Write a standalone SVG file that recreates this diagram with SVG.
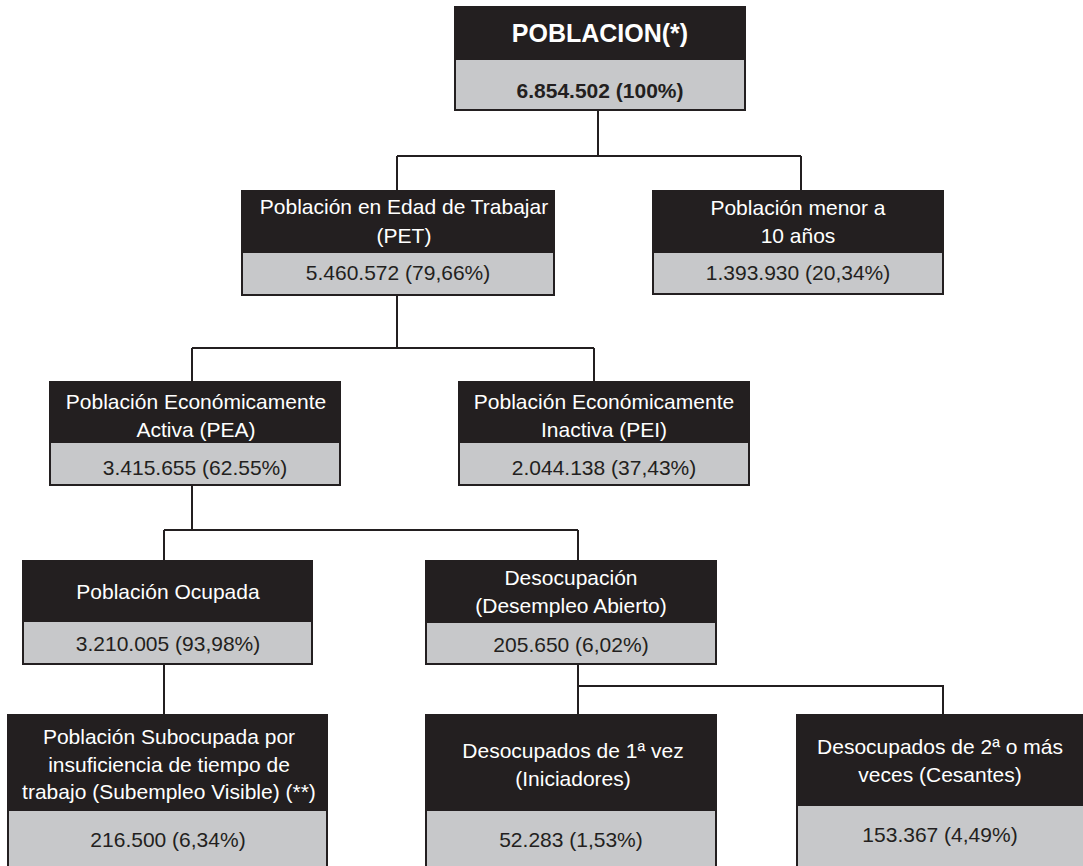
<svg xmlns="http://www.w3.org/2000/svg" width="1083" height="866" viewBox="0 0 1083 866">
<style>
.hd{fill:#231f20;stroke:#231f20;stroke-width:2}
.vl{fill:#c7c8ca;stroke:#231f20;stroke-width:2}
.t{font-family:"Liberation Sans",Arial,sans-serif;font-size:21px;text-anchor:middle}
.w{fill:#ffffff}
.k{fill:#231f20}
.b{font-weight:bold}
.c{fill:none;stroke:#231f20;stroke-width:2}
</style>
<rect width="1083" height="866" fill="#ffffff"/>
<g id="connectors">
<path class="c" d="M598 110V156M397 156H801M397 156V191M801 156V191"/>
<path class="c" d="M397 295V348M192 348H594M192 348V382M594 348V382"/>
<path class="c" d="M192 485V530M164 530H578M164 530V561M578 530V561"/>
<path class="c" d="M164 664V715"/>
<path class="c" d="M578 664V715M578 686H943V715"/>
</g>
<g id="poblacion">
<rect class="vl" x="455" y="7" width="290" height="103"/>
<rect class="hd" x="455" y="7" width="290" height="52"/>
<text class="t w b" x="600" y="42" font-size="25" style="font-size:25px">POBLACION(*)</text>
<text class="t k b" x="600" y="98">6.854.502 (100%)</text>
</g>
<g id="pet">
<rect class="vl" x="242" y="191" width="312" height="104"/>
<rect class="hd" x="242" y="191" width="312" height="61"/>
<text class="t w" x="404" y="214">Población en Edad de Trabajar</text>
<text class="t w" x="404" y="243">(PET)</text>
<text class="t k" x="398" y="280">5.460.572 (79,66%)</text>
</g>
<g id="menor">
<rect class="vl" x="653" y="191" width="290" height="103"/>
<rect class="hd" x="653" y="191" width="290" height="61"/>
<text class="t w" x="798" y="215">Población menor a</text>
<text class="t w" x="798" y="243">10 años</text>
<text class="t k" x="798" y="280">1.393.930 (20,34%)</text>
</g>
<g id="pea">
<rect class="vl" x="50" y="382" width="290" height="103"/>
<rect class="hd" x="50" y="382" width="290" height="60"/>
<text class="t w" x="196" y="409">Población Económicamente</text>
<text class="t w" x="196" y="437">Activa (PEA)</text>
<text class="t k" x="195" y="475">3.415.655 (62.55%)</text>
</g>
<g id="pei">
<rect class="vl" x="459" y="382" width="290" height="103"/>
<rect class="hd" x="459" y="382" width="290" height="60"/>
<text class="t w" x="604" y="409">Población Económicamente</text>
<text class="t w" x="604" y="437">Inactiva (PEI)</text>
<text class="t k" x="604" y="475">2.044.138 (37,43%)</text>
</g>
<g id="ocupada">
<rect class="vl" x="23" y="561" width="289" height="103"/>
<rect class="hd" x="23" y="561" width="289" height="60"/>
<text class="t w" x="168" y="599">Población Ocupada</text>
<text class="t k" x="168" y="651">3.210.005 (93,98%)</text>
</g>
<g id="desocupacion">
<rect class="vl" x="426" y="561" width="290" height="103"/>
<rect class="hd" x="426" y="561" width="290" height="61"/>
<text class="t w" x="571" y="585">Desocupación</text>
<text class="t w" x="571" y="613">(Desempleo Abierto)</text>
<text class="t k" x="571" y="652">205.650 (6,02%)</text>
</g>
<g id="subocupada">
<rect class="vl" x="8" y="715" width="319" height="165"/>
<rect class="hd" x="8" y="715" width="319" height="95"/>
<text class="t w" x="169" y="744">Población Subocupada por</text>
<text class="t w" x="169" y="772">insuficiencia de tiempo de</text>
<text class="t w" x="169" y="799">trabajo (Subempleo Visible) (**)</text>
<text class="t k" x="168" y="847">216.500 (6,34%)</text>
</g>
<g id="primera">
<rect class="vl" x="426" y="715" width="290" height="165"/>
<rect class="hd" x="426" y="715" width="290" height="95"/>
<text class="t w" x="573" y="758">Desocupados de 1ª vez</text>
<text class="t w" x="573" y="786">(Iniciadores)</text>
<text class="t k" x="571" y="847">52.283 (1,53%)</text>
</g>
<g id="segunda">
<rect class="vl" x="797" y="715" width="300" height="165"/>
<rect class="hd" x="797" y="715" width="300" height="90"/>
<text class="t w" x="940" y="754">Desocupados de 2ª o más</text>
<text class="t w" x="940" y="782">veces (Cesantes)</text>
<text class="t k" x="940" y="842">153.367 (4,49%)</text>
</g>
</svg>
